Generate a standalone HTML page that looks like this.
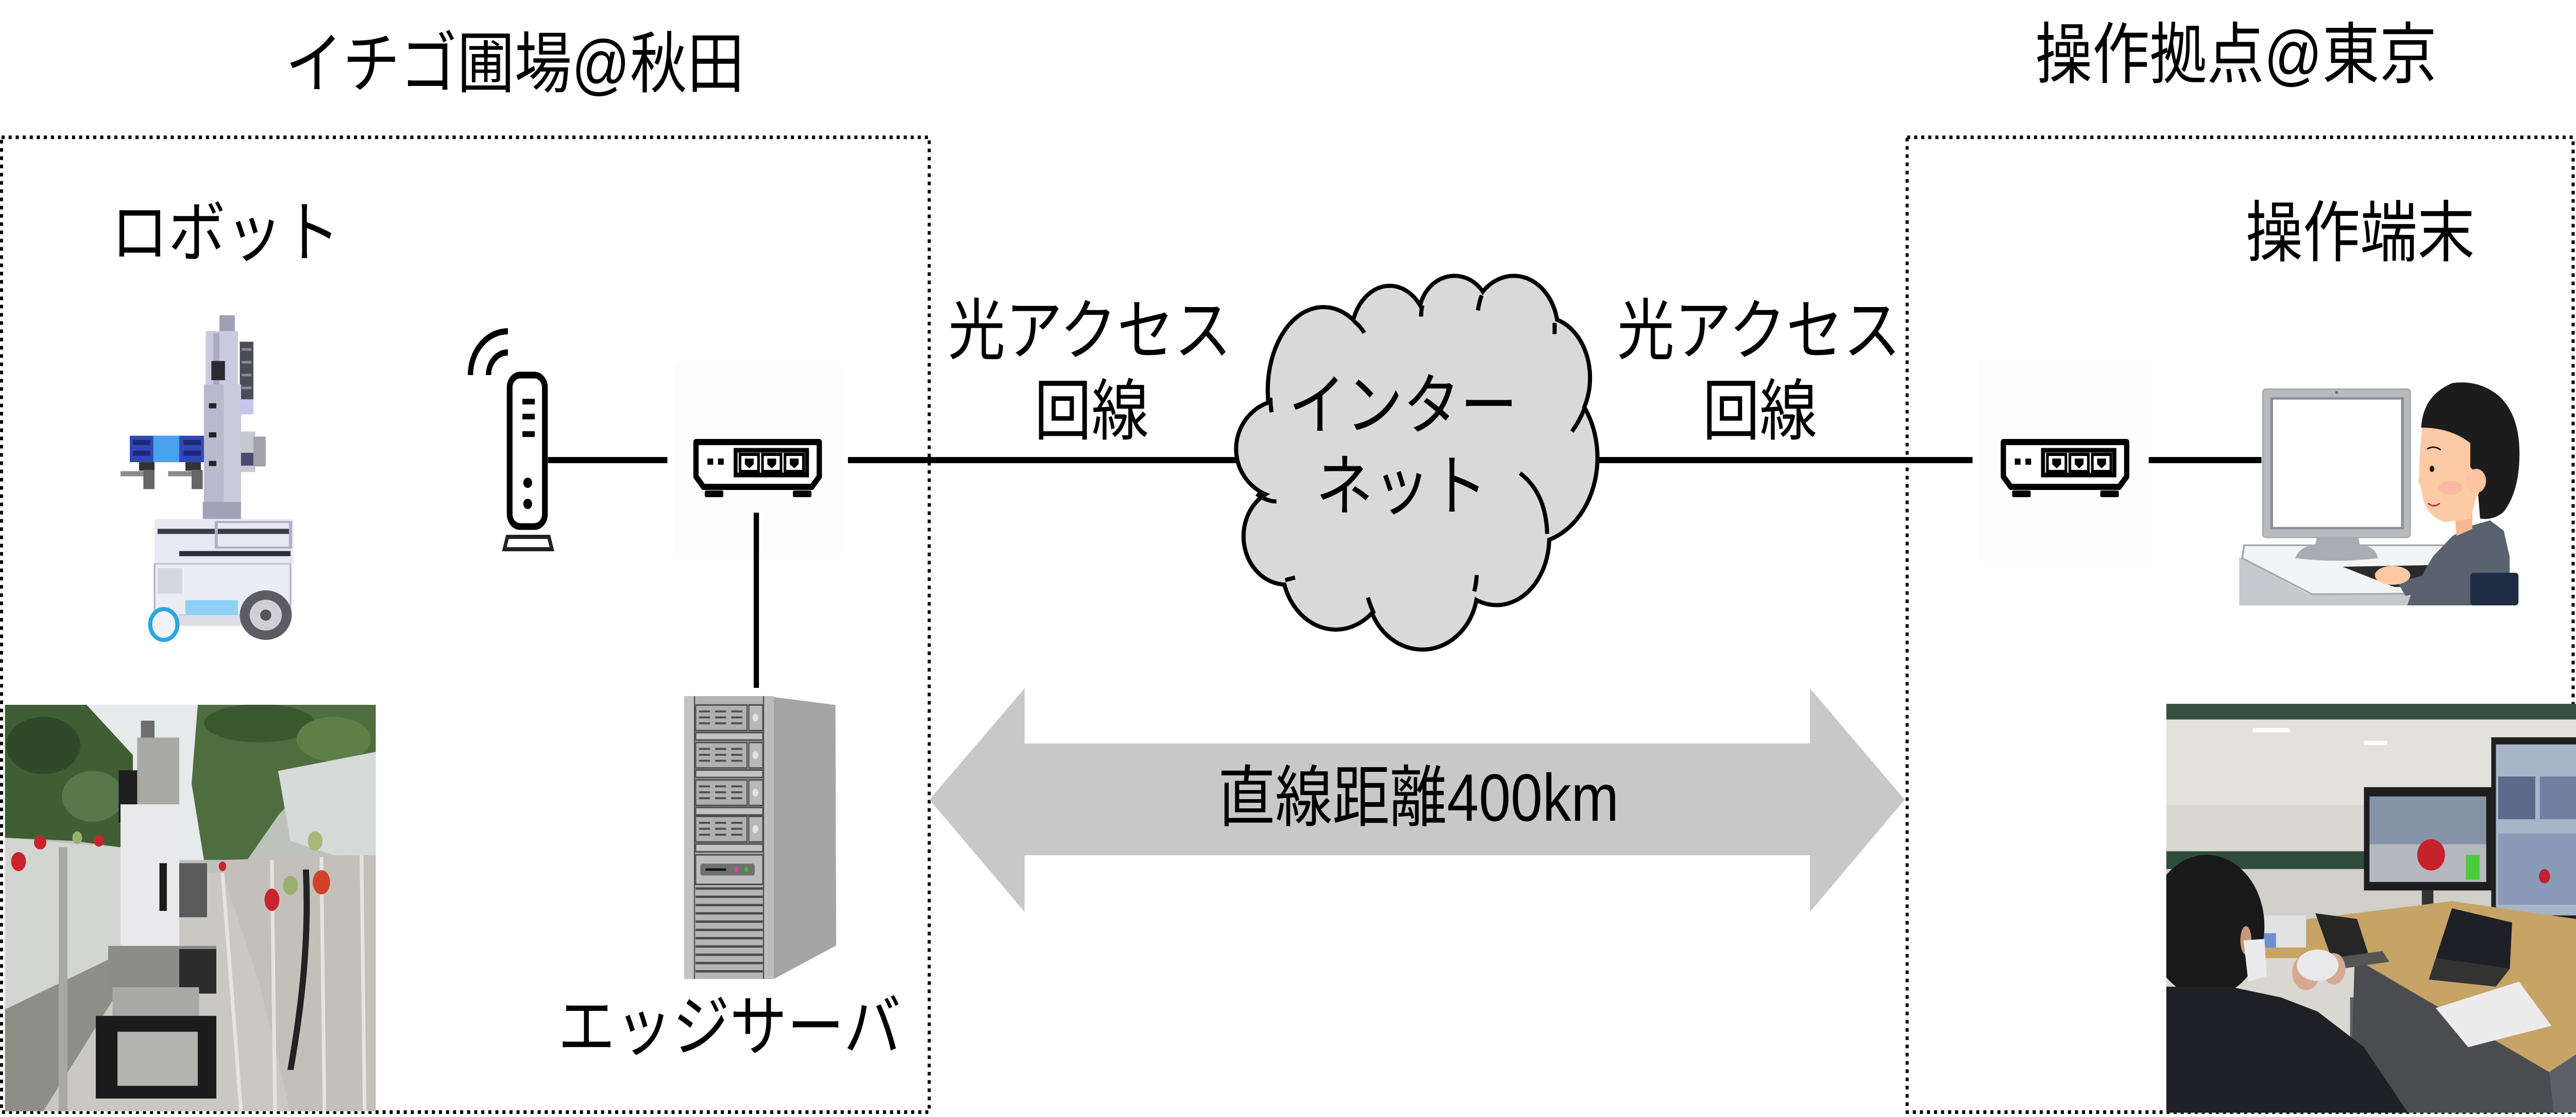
<!DOCTYPE html>
<html><head><meta charset="utf-8">
<style>
html,body{margin:0;padding:0;background:#fff;overflow:hidden;width:100%;height:100%;}
#main{display:block;width:100vw;height:100vh;}
.ns{vector-effect:non-scaling-stroke;}
</style></head>
<body>
<svg id="main" xmlns="http://www.w3.org/2000/svg" viewBox="0 0 5848 2168" preserveAspectRatio="none">
<rect x="0" y="0" width="5848" height="2168" fill="#fff"/>

<!-- faint switch backgrounds -->
<rect x="1529" y="705" width="386" height="373" fill="#fdfdfd"/>
<rect x="4489" y="698" width="399" height="394" fill="#fdfdfd"/>

<!-- dotted boxes -->
<rect x="3.5" y="266.5" width="2106" height="1892" fill="none" stroke="#000" stroke-width="7" stroke-dasharray="7 9"/>
<rect x="4329.5" y="266.5" width="1512" height="1892" fill="none" stroke="#000" stroke-width="7" stroke-dasharray="7 9"/>

<!-- connection lines -->
<g stroke="#000" stroke-width="12" fill="none">
<line x1="1244" y1="893" x2="1515" y2="893"/>
<line x1="1925" y1="893" x2="2816" y2="893"/>
<line x1="3620" y1="893" x2="4478" y2="893"/>
<line x1="4878" y1="893" x2="5134" y2="893"/>
<line x1="1717" y1="995" x2="1717" y2="1335"/>
</g>

<!-- double arrow -->
<polygon points="2110,1552 2326,1336 2326,1443 4109,1443 4109,1336 4324,1552 4109,1770 4109,1660 2326,1660 2326,1770" fill="#c8c8c8"/>

<!-- cloud -->
<svg x="2780" y="520" width="880" height="760" viewBox="0 0 1568 1568" preserveAspectRatio="none" overflow="visible">
<g fill="#d9d9d9" stroke="#000" stroke-width="16">
<ellipse class="ns" cx="400" cy="490" rx="217" ry="325"/>
<ellipse class="ns" cx="668" cy="275" rx="148" ry="195"/>
<ellipse class="ns" cx="930" cy="190" rx="135" ry="150"/>
<ellipse class="ns" cx="1170" cy="250" rx="170" ry="210"/>
<ellipse class="ns" cx="1290" cy="440" rx="180" ry="235"/>
<ellipse class="ns" cx="1230" cy="760" rx="270" ry="336"/>
<ellipse class="ns" cx="1100" cy="1080" rx="205" ry="262"/>
<ellipse class="ns" cx="800" cy="1280" rx="215" ry="240"/>
<ellipse class="ns" cx="450" cy="1190" rx="210" ry="250"/>
<ellipse class="ns" cx="250" cy="1075" rx="165" ry="185"/>
<ellipse class="ns" cx="245" cy="725" rx="190" ry="190"/>
</g>
<g fill="#d9d9d9">
<ellipse cx="400" cy="490" rx="217" ry="325"/>
<ellipse cx="668" cy="275" rx="148" ry="195"/>
<ellipse cx="930" cy="190" rx="135" ry="150"/>
<ellipse cx="1170" cy="250" rx="170" ry="210"/>
<ellipse cx="1290" cy="440" rx="180" ry="235"/>
<ellipse cx="1230" cy="760" rx="270" ry="336"/>
<ellipse cx="1100" cy="1080" rx="205" ry="262"/>
<ellipse cx="800" cy="1280" rx="215" ry="240"/>
<ellipse cx="450" cy="1190" rx="210" ry="250"/>
<ellipse cx="250" cy="1075" rx="165" ry="185"/>
<ellipse cx="245" cy="725" rx="190" ry="190"/>
<ellipse cx="780" cy="780" rx="560" ry="540"/>
</g>
<g fill="none" stroke="#000" stroke-width="8">
<path class="ns" d="M185,520 Q186,550 190,578"/>
<path class="ns" d="M525,215 Q548,232 565,260"/>
<path class="ns" d="M800,150 Q795,170 795,195"/>
<path class="ns" d="M1040,110 Q1030,135 1025,170"/>
<path class="ns" d="M1335,220 L1335,265"/>
<path class="ns" d="M1455,565 Q1435,615 1405,655"/>
<path class="ns" d="M1195,822 Q1300,900 1305,1065"/>
<path class="ns" d="M1020,1230 Q1018,1265 1010,1295"/>
<path class="ns" d="M580,1320 Q590,1355 605,1385"/>
<path class="ns" d="M285,1240 Q265,1245 245,1250"/>
<path class="ns" d="M210,935 Q170,935 130,905"/>
</g>
</svg>

<!-- robot illustration -->
<svg x="0" y="0" width="2200" height="1300" viewBox="0 0 1568 1568" preserveAspectRatio="none">
<rect x="355" y="738" width="25" height="40" fill="#a0a0b4"/>
<rect x="333" y="775" width="52" height="130" fill="#c9cadf"/>
<rect x="345" y="780" width="10" height="120" fill="#a8a9c4"/>
<rect x="342" y="845" width="22" height="45" fill="#2a2a30"/>
<rect x="388" y="800" width="22" height="135" fill="#4c4c58"/>
<rect x="391" y="815" width="16" height="6" fill="#8a8a98"/>
<rect x="391" y="845" width="16" height="6" fill="#8a8a98"/>
<rect x="391" y="875" width="16" height="6" fill="#8a8a98"/>
<rect x="391" y="905" width="16" height="6" fill="#8a8a98"/>
<rect x="330" y="900" width="60" height="280" fill="#b9bacd"/>
<rect x="362" y="900" width="28" height="280" fill="#cacbdd"/>
<rect x="338" y="944" width="12" height="12" fill="#222"/>
<rect x="338" y="1012" width="12" height="12" fill="#222"/>
<rect x="338" y="1079" width="12" height="12" fill="#222"/>
<rect x="388" y="935" width="22" height="35" fill="#c4c6ea"/>
<rect x="388" y="1010" width="25" height="95" fill="#c8c8d0"/>
<rect x="390" y="1060" width="20" height="30" fill="#4a4a70"/>
<rect x="410" y="1022" width="20" height="70" fill="#a2a2aa"/>
<rect x="210" y="1020" width="120" height="62" fill="#3346b8"/>
<rect x="248" y="1020" width="42" height="62" fill="#49a2ec"/>
<rect x="215" y="1030" width="28" height="12" fill="#1e2a70"/>
<rect x="215" y="1055" width="28" height="12" fill="#1e2a70"/>
<rect x="297" y="1030" width="28" height="12" fill="#1e2a70"/>
<rect x="297" y="1055" width="28" height="12" fill="#1e2a70"/>
<rect x="225" y="1082" width="25" height="20" fill="#333"/>
<rect x="195" y="1103" width="55" height="12" fill="#8a8a90"/>
<rect x="232" y="1100" width="18" height="45" fill="#666"/>
<rect x="300" y="1082" width="25" height="20" fill="#333"/>
<rect x="272" y="1103" width="55" height="12" fill="#8a8a90"/>
<rect x="310" y="1100" width="18" height="45" fill="#666"/>
<rect x="328" y="1175" width="62" height="40" fill="#a2a3b6"/>
<rect x="250" y="1215" width="225" height="105" fill="#e8e8f3"/>
<rect x="255" y="1238" width="215" height="12" fill="#3a3a48"/>
<rect x="350" y="1222" width="120" height="60" fill="none" stroke="#b0b0c4" stroke-width="5"/>
<rect x="290" y="1290" width="180" height="12" fill="#2c2c3c"/>
<rect x="250" y="1320" width="220" height="120" fill="#ececf3" stroke="#b8b8c8" stroke-width="3"/>
<rect x="255" y="1330" width="40" height="60" fill="#d6d6de"/>
<rect x="300" y="1405" width="85" height="40" fill="#8fd0f4"/>
<rect x="285" y="1440" width="110" height="25" fill="#dcdce6"/>
<ellipse cx="430" cy="1440" rx="42" ry="58" fill="#5c5c64"/>
<ellipse cx="430" cy="1440" rx="26" ry="36" fill="#cfcfd4"/>
<ellipse cx="430" cy="1440" rx="9" ry="13" fill="#555"/>
<ellipse class="ns" cx="265" cy="1462" rx="22" ry="36" fill="#f0f4fa" stroke="#2aa6e0" stroke-width="8"/>
</svg>

<!-- router -->
<g stroke="#000" fill="none" stroke-width="12">
<path d="M1068,728 A85,85 0 0 1 1153,643"/>
<path d="M1109,728 A44,44 0 0 1 1153,684"/>
</g>
<rect x="1157" y="728" width="80" height="294" rx="24" fill="#fff" stroke="#000" stroke-width="13"/>
<rect x="1186" y="774" width="28" height="11" fill="#000"/>
<rect x="1186" y="803" width="28" height="11" fill="#000"/>
<rect x="1186" y="837" width="28" height="11" fill="#000"/>
<circle cx="1198" cy="937" r="10" fill="#000"/>
<circle cx="1198" cy="978" r="10" fill="#000"/>
<path d="M1152,1042 L1246,1042 L1253,1066 L1145,1066 Z" fill="#fff" stroke="#222" stroke-width="8"/>

<!-- switches -->
<g id="sw">
<path d="M1580,858 L1860,858 L1860,925 L1843,945 L1597,945 L1580,925 Z" fill="#fff" stroke="#000" stroke-width="12" stroke-linejoin="round"/>
<rect x="1670" y="874" width="162" height="48" fill="none" stroke="#000" stroke-width="9"/>
<rect x="1680" y="882" width="42" height="33" fill="none" stroke="#000" stroke-width="6"/>
<rect x="1731" y="882" width="42" height="33" fill="none" stroke="#000" stroke-width="6"/>
<rect x="1782" y="882" width="42" height="33" fill="none" stroke="#000" stroke-width="6"/>
<polygon points="1691,890 1711,890 1711,901 1701,909 1691,901" fill="#000"/>
<polygon points="1742,890 1762,890 1762,901 1752,909 1742,901" fill="#000"/>
<polygon points="1793,890 1813,890 1813,901 1803,909 1793,901" fill="#000"/>
<rect x="1606" y="890" width="13" height="12" fill="#000"/>
<rect x="1630" y="890" width="13" height="12" fill="#000"/>
<rect x="1600" y="952" width="42" height="13" rx="3" fill="#000"/>
<rect x="1800" y="952" width="42" height="13" rx="3" fill="#000"/>
</g>
<use href="#sw" x="2968" y="0"/>

<!-- server -->
<svg x="1530" y="1330" width="400" height="600" viewBox="0 0 1200 1568" preserveAspectRatio="none">
<polygon points="680,60 1100,100 1105,1320 680,1490" fill="#a5a5a5"/>
<rect x="70" y="55" width="610" height="1435" fill="#b5b5b5"/>
<rect x="70" y="55" width="70" height="1435" fill="#c3c3c3"/>
<rect x="610" y="55" width="70" height="1435" fill="#bdbdbd"/>
<rect x="136" y="55" width="8" height="1435" fill="#4d4d4d"/>
<rect x="606" y="55" width="8" height="1435" fill="#4d4d4d"/>
<g stroke="#4d4d4d" stroke-width="8">
<rect x="148" y="100" width="350" height="130" fill="#b0b0b0"/>
<rect x="510" y="100" width="95" height="130" fill="#b8b8b8"/>
<rect x="148" y="290" width="350" height="130" fill="#b0b0b0"/>
<rect x="510" y="290" width="95" height="130" fill="#b8b8b8"/>
<rect x="148" y="480" width="350" height="130" fill="#b0b0b0"/>
<rect x="510" y="480" width="95" height="130" fill="#b8b8b8"/>
<rect x="148" y="665" width="350" height="130" fill="#b0b0b0"/>
<rect x="510" y="665" width="95" height="130" fill="#b8b8b8"/>
<rect x="148" y="240" width="457" height="38" fill="#c2c2c2"/>
<rect x="148" y="430" width="457" height="38" fill="#c2c2c2"/>
<rect x="148" y="620" width="457" height="38" fill="#c2c2c2"/>
<rect x="148" y="805" width="457" height="40" fill="#c2c2c2"/>
<rect x="148" y="860" width="457" height="150" fill="#bdbdbd"/>
</g>
<g fill="#e2e2e2">
<circle cx="555" cy="165" r="20"/><circle cx="555" cy="355" r="20"/><circle cx="555" cy="545" r="20"/><circle cx="555" cy="730" r="20"/>
</g>
<g fill="#4d4d4d">
<rect x="170" y="128" width="75" height="10"/><rect x="280" y="128" width="75" height="10"/><rect x="390" y="128" width="75" height="10"/>
<rect x="170" y="158" width="75" height="10"/><rect x="280" y="158" width="75" height="10"/><rect x="390" y="158" width="75" height="10"/>
<rect x="170" y="188" width="75" height="10"/><rect x="280" y="188" width="75" height="10"/><rect x="390" y="188" width="75" height="10"/>
<rect x="170" y="318" width="75" height="10"/><rect x="280" y="318" width="75" height="10"/><rect x="390" y="318" width="75" height="10"/>
<rect x="170" y="348" width="75" height="10"/><rect x="280" y="348" width="75" height="10"/><rect x="390" y="348" width="75" height="10"/>
<rect x="170" y="378" width="75" height="10"/><rect x="280" y="378" width="75" height="10"/><rect x="390" y="378" width="75" height="10"/>
<rect x="170" y="508" width="75" height="10"/><rect x="280" y="508" width="75" height="10"/><rect x="390" y="508" width="75" height="10"/>
<rect x="170" y="538" width="75" height="10"/><rect x="280" y="538" width="75" height="10"/><rect x="390" y="538" width="75" height="10"/>
<rect x="170" y="568" width="75" height="10"/><rect x="280" y="568" width="75" height="10"/><rect x="390" y="568" width="75" height="10"/>
<rect x="170" y="693" width="75" height="10"/><rect x="280" y="693" width="75" height="10"/><rect x="390" y="693" width="75" height="10"/>
<rect x="170" y="723" width="75" height="10"/><rect x="280" y="723" width="75" height="10"/><rect x="390" y="723" width="75" height="10"/>
<rect x="170" y="753" width="75" height="10"/><rect x="280" y="753" width="75" height="10"/><rect x="390" y="753" width="75" height="10"/>
</g>
<rect x="180" y="905" width="370" height="60" rx="12" fill="#707070"/>
<rect x="215" y="929" width="140" height="12" fill="#111"/>
<circle cx="425" cy="935" r="14" fill="#e040a0"/>
<circle cx="493" cy="935" r="14" fill="#30c030"/>
<g fill="#4a4a4a">
<rect x="148" y="1025" width="457" height="12"/><rect x="148" y="1067" width="457" height="12"/>
<rect x="148" y="1109" width="457" height="12"/><rect x="148" y="1151" width="457" height="12"/>
<rect x="148" y="1193" width="457" height="12"/><rect x="148" y="1235" width="457" height="12"/>
<rect x="148" y="1277" width="457" height="12"/><rect x="148" y="1319" width="457" height="12"/>
<rect x="148" y="1361" width="457" height="12"/><rect x="148" y="1403" width="457" height="12"/>
<rect x="148" y="1445" width="457" height="12"/>
</g>
</svg>

<!-- strawberry greenhouse photo -->
<svg x="0" y="1200" width="2200" height="968" viewBox="0 0 1568 1568" preserveAspectRatio="none">
<defs><clipPath id="cp1"><rect x="8" y="272" width="600" height="1278"/></clipPath></defs>
<g clip-path="url(#cp1)">
<rect x="8" y="272" width="600" height="1278" fill="#bfc1bb"/>
<polygon points="110,272 450,272 380,520 345,760 290,760 230,520" fill="#e6eaec"/>
<polygon points="8,272 140,272 215,430 215,600 195,720 120,700 8,690" fill="#3f5e34"/>
<ellipse cx="70" cy="400" rx="60" ry="90" fill="#2f4a28"/>
<ellipse cx="150" cy="560" rx="50" ry="80" fill="#56784a"/>
<polygon points="320,272 608,272 608,430 520,470 450,620 400,760 330,760 310,520" fill="#4e6e3f"/>
<ellipse cx="420" cy="330" rx="90" ry="60" fill="#3a5830"/>
<ellipse cx="540" cy="380" rx="60" ry="70" fill="#5d8049"/>
<polygon points="450,480 608,420 608,745 540,745 470,700" fill="#d6dad8"/>
<polygon points="8,690 195,720 200,1050 8,1230" fill="#d3d5d3"/>
<polygon points="8,1230 200,1050 215,1100 70,1550 8,1550" fill="#8d8f87"/>
<polygon points="70,1550 215,1100 300,800 360,800 420,1150 470,1550" fill="#cac8c2"/>
<polygon points="360,760 608,745 608,1550 470,1550 420,1150" fill="#c2c0b8"/>
<g stroke="#e4e4e0" stroke-width="6">
<line x1="440" y1="760" x2="445" y2="1550"/>
<line x1="520" y1="750" x2="525" y2="1550"/>
<line x1="585" y1="745" x2="590" y2="1550"/>
<line x1="360" y1="800" x2="390" y2="1550"/>
</g>
<rect x="95" y="720" width="14" height="830" fill="#a8a8a4"/>
<path d="M495,790 C500,1000 490,1200 470,1420" stroke="#222" stroke-width="10" fill="none"/>
<ellipse cx="30" cy="765" rx="12" ry="30" fill="#c8242c"/>
<ellipse cx="65" cy="705" rx="10" ry="22" fill="#c8242c"/>
<ellipse cx="160" cy="700" rx="8" ry="18" fill="#c8242c"/>
<ellipse cx="440" cy="885" rx="12" ry="35" fill="#c8242c"/>
<ellipse cx="520" cy="830" rx="14" ry="38" fill="#d0402a"/>
<ellipse cx="360" cy="780" rx="6" ry="15" fill="#c8242c"/>
<ellipse cx="470" cy="840" rx="12" ry="30" fill="#9ab070"/>
<ellipse cx="125" cy="690" rx="8" ry="20" fill="#9ab070"/>
<ellipse cx="510" cy="700" rx="12" ry="30" fill="#a8b878"/>
<rect x="228" y="322" width="22" height="60" fill="#6e6e6e"/>
<rect x="222" y="375" width="68" height="215" fill="#a9a9a6"/>
<rect x="192" y="478" width="30" height="165" fill="#1f1f1f"/>
<rect x="195" y="585" width="95" height="445" fill="#e9e9eb"/>
<rect x="258" y="770" width="12" height="150" fill="#1a1a1a"/>
<rect x="290" y="770" width="45" height="170" fill="#5a5a5a"/>
<rect x="175" y="1030" width="175" height="150" fill="#8c8c88"/>
<rect x="290" y="1040" width="60" height="140" fill="#2c2c2c"/>
<rect x="182" y="1160" width="140" height="100" fill="#a9a9a5"/>
<rect x="155" y="1250" width="195" height="260" fill="#1b1b1b"/>
<rect x="190" y="1300" width="130" height="170" fill="#b3b3af"/>
</g>
</svg>

<!-- operator illustration -->
<svg x="5050" y="720" width="700" height="480" viewBox="0 0 1568 1440" preserveAspectRatio="none">
<rect x="195" y="105" width="750" height="865" rx="18" fill="#b7babf" stroke="#9fa3a8" stroke-width="6"/>
<rect x="240" y="160" width="665" height="755" fill="#fff" stroke="#8d9196" stroke-width="14"/>
<circle cx="570" cy="125" r="8" fill="#666"/>
<polygon points="470,970 680,970 690,1015 460,1015" fill="#a9adb2"/>
<polygon points="75,1085 430,1300 1250,1300 1250,1365 75,1365" fill="#c5c8cc"/>
<path d="M100,1015 L1110,1015 L1240,1295 L445,1300 L90,1090 Z" fill="#f3f4f5" stroke="#a5a9ae" stroke-width="10"/>
<path d="M360,1090 Q380,1020 470,1010 L680,1010 Q770,1020 780,1090 Q570,1120 360,1090 Z" fill="#a9adb2"/>
<polygon points="600,1140 1090,1130 1095,1250 865,1258" fill="#2a2a2a"/>
<path d="M1000,1200 L1060,1080 L1160,960 L1260,900 L1350,870 L1420,930 L1450,1080 L1450,1365 L930,1365 L960,1260 Z" fill="#5a6270"/>
<polygon points="880,1230 1080,1170 1120,1260 920,1310" fill="#5a6270"/>
<ellipse cx="855" cy="1190" rx="90" ry="55" fill="#fcc9a2"/>
<polygon points="1170,830 1260,820 1260,920 1180,960" fill="#f6b98f"/>
<path d="M1010,300 Q990,450 990,620 L985,640 L1000,680 Q1010,840 1120,880 L1250,860 L1290,700 L1260,300 Z" fill="#fccba5"/>
<path d="M1000,330 Q1010,140 1160,70 Q1300,50 1400,150 Q1500,260 1500,480 Q1500,700 1420,820 Q1370,870 1300,860 L1290,720 Q1320,640 1250,560 L1250,420 Q1150,330 1000,330 Z" fill="#1c1c1c"/>
<ellipse cx="1280" cy="640" rx="50" ry="70" fill="#fcc3a0"/>
<ellipse cx="1150" cy="680" rx="60" ry="40" fill="#f8a8a0" opacity="0.5"/>
<ellipse cx="1055" cy="570" rx="12" ry="18" fill="#111"/>
<path d="M1030,455 Q1065,430 1100,460" stroke="#111" stroke-width="8" fill="none"/>
<path d="M1035,770 Q1065,800 1095,770" stroke="#b0304a" stroke-width="8" fill="none"/>
<rect x="1250" y="1175" width="245" height="190" rx="18" fill="#1f2e45"/>
</svg>

<!-- office photo -->
<svg x="4200" y="0" width="1648" height="2168" viewBox="0 0 1568 1568" preserveAspectRatio="none">
<defs><clipPath id="cp2"><rect x="683" y="988" width="885" height="574"/></clipPath></defs>
<g clip-path="url(#cp2)">
<rect x="683" y="988" width="885" height="574" fill="#d8d7d2"/>
<rect x="683" y="1010" width="885" height="120" fill="#e2e1dc"/>
<rect x="683" y="988" width="885" height="22" fill="#36503f"/>
<rect x="870" y="1022" width="80" height="6" fill="#fff"/>
<rect x="1110" y="1040" width="50" height="6" fill="#fff"/>
<rect x="683" y="1195" width="450" height="25" fill="#2f4c3c"/>
<rect x="683" y="1220" width="885" height="80" fill="#d0cfca"/>
<rect x="1110" y="1105" width="275" height="145" fill="#1d1d1d"/>
<rect x="1122" y="1118" width="252" height="120" fill="#8593a8"/>
<rect x="1122" y="1185" width="252" height="53" fill="#b5b8bf"/>
<ellipse cx="1255" cy="1200" rx="30" ry="22" fill="#c5222c"/>
<rect x="1330" y="1200" width="30" height="35" fill="#4ccc3a"/>
<rect x="1235" y="1250" width="25" height="40" fill="#333"/>
<rect x="1385" y="1035" width="183" height="262" fill="#1f1f1f"/>
<rect x="1395" y="1045" width="173" height="240" fill="#a8b4c8"/>
<rect x="1400" y="1090" width="80" height="60" fill="#5a6c8a"/>
<rect x="1490" y="1090" width="78" height="60" fill="#7080a0"/>
<rect x="1400" y="1170" width="168" height="100" fill="#8a9bb8"/>
<ellipse cx="1500" cy="1230" rx="12" ry="10" fill="#c02030"/>
<rect x="1080" y="1400" width="488" height="162" fill="#5c6066"/>
<polygon points="870,1300 1300,1265 1568,1290 1568,1480 1510,1505 1090,1345 870,1345" fill="#c6a466"/>
<polygon points="1090,1345 1510,1505 1520,1562 1080,1562" fill="#4b4c50"/>
<polygon points="1265,1415 1445,1378 1515,1440 1335,1470" fill="#ececec"/>
<polygon points="1005,1282 1095,1290 1120,1340 1040,1345" fill="#262626"/>
<polygon points="1040,1345 1150,1335 1165,1350 1060,1360" fill="#555"/>
<polygon points="1300,1275 1430,1295 1425,1360 1265,1345" fill="#1f1f27"/>
<polygon points="1265,1345 1425,1360 1395,1385 1250,1375" fill="#333"/>
<rect x="880" y="1285" width="105" height="45" fill="#e2e2e2"/>
<rect x="890" y="1310" width="30" height="20" fill="#6b8fd0"/>
<ellipse cx="770" cy="1300" rx="125" ry="100" fill="#191919"/>
<ellipse cx="855" cy="1320" rx="12" ry="20" fill="#c99878"/>
<polygon points="850,1320 895,1318 900,1370 860,1378" fill="#ebebed"/>
<path d="M683,1385 L820,1385 L930,1400 L1010,1420 L1110,1470 L1205,1562 L683,1562 Z" fill="#1f2025"/>
<ellipse cx="985" cy="1365" rx="30" ry="25" fill="#d6aa90"/>
<ellipse cx="1045" cy="1360" rx="25" ry="22" fill="#d6aa90"/>
<ellipse cx="1010" cy="1355" rx="45" ry="22" fill="#e9e9eb"/>
</g>
</svg>

<!-- text -->
<g font-family="'Liberation Sans','Noto Sans CJK JP',sans-serif" font-size="130" fill="#000" text-anchor="middle">
<text x="1169" y="169">イチゴ圃場@秋田</text>
<text x="5076" y="151">操作拠点@東京</text>
<text x="512" y="497">ロボット</text>
<text x="5358" y="497">操作端末</text>
<text x="2474" y="687">光アクセス</text>
<text x="2478" y="843">回線</text>
<text x="3993" y="687">光アクセス</text>
<text x="3995" y="843">回線</text>
<text x="3185" y="832">インター</text>
<text x="3182" y="989">ネット</text>
<text x="3220" y="1593">直線距離400km</text>
<text x="1656" y="2038">エッジサーバ</text>
</g>
</svg>
</body></html>
